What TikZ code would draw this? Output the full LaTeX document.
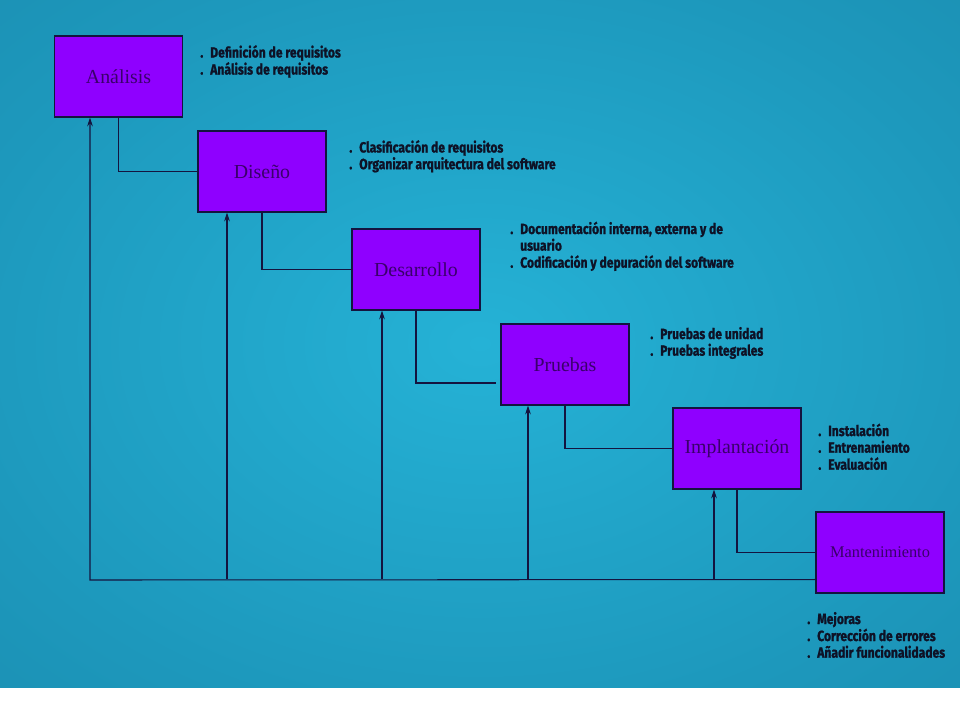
\documentclass[tikz,border=0pt]{standalone}
\usepackage{fontspec}
\usepackage{tikz}
\usetikzlibrary{arrows.meta,calc}
\setmainfont{Liberation Serif}
\newfontfamily\notefont[FakeStretch=0.82, BoldFeatures={FakeBold=1.2}]{Fira Sans}
\definecolor{boxfill}{HTML}{8F00FF}
\definecolor{boxtext}{HTML}{3A006B}
\definecolor{edge}{HTML}{14143F}
\definecolor{bgin}{HTML}{25B2D6}
\definecolor{bgmid}{HTML}{1D98BC}
\definecolor{bgout}{HTML}{16789A}
\definecolor{notecol}{HTML}{0E1226}
\pgfdeclareradialshading{bgshade}{\pgfpoint{0bp}{0bp}}{color(0bp)=(bgin); color(28bp)=(bgmid); color(71bp)=(bgout)}
\newcommand{\notes}[1]{{\notefont\bfseries\fontsize{8.4}{8.9}\selectfont\begin{tabular}[t]{@{}l@{\hspace{4pt}}l@{}}#1\end{tabular}}}

\begin{document}
\begin{tikzpicture}[x=0.02cm, y=-0.02cm,
    phase/.style={draw=edge, fill=boxfill, line width=0.6pt, minimum width=2.56cm, minimum height=1.62cm,
        inner sep=0pt, text=boxtext, font=\fontsize{11.3}{13}\selectfont},
    note/.style={anchor=base west, inner sep=0pt, text=notecol},
    flow/.style={draw=edge, line width=0.6pt},
    up/.style={flow, -{Stealth[length=5pt, width=3.2pt]}}]
    %Background
    \useasboundingbox (0,0) rectangle (960,720);
    \fill[white] (0,0) rectangle (960,720);
    \shade[shading=bgshade] (0,0) rectangle (960,687);

    %Phases
    \node[phase] (ana) at (118.5,76.5) {Análisis};
    \node[phase] (dis) at (262,171.5) {Diseño};
    \node[phase] (des) at (416,269.5) {Desarrollo};
    \node[phase] (pru) at (565,364.5) {Pruebas};
    \node[phase] (imp) at (737,448.5) {Implantación};
    \node[phase, font=\fontsize{9.3}{11}\selectfont] (man) at (880,552.5) {Mantenimiento};

    %Notes
    \node[note] (anaNotes) at (200,57.5) {\notes{.&Definición de requisitos\\ .&Análisis de requisitos}};
    \node[note] (disNotes) at (349,152.5) {\notes{.&Clasificación de requisitos\\ .&Organizar arquitectura del software}};
    \node[note] (desNotes) at (510,234) {\notes{.&Documentación interna, externa y de\\ &usuario\\ .&Codificación y depuración del software}};
    \node[note] (pruNotes) at (650,339) {\notes{.&Pruebas de unidad\\ .&Pruebas integrales}};
    \node[note] (impNotes) at (818,436) {\notes{.&Instalación\\ .&Entrenamiento\\ .&Evaluación}};
    \node[note] (manNotes) at (807,624) {\notes{.&Mejoras\\ .&Corrección de errores\\ .&Añadir funcionalidades}};

    %Steps down
    \foreach \a/\b in {ana/dis, dis/des, pru/imp, imp/man}
        \draw[flow] (\a.south) |- (\b.west);
    \coordinate (pruIn) at (496,383);
    \draw[flow] (des.south) |- (pruIn);

    %Feedback
    \coordinate (backR) at ($(man.south west)+(0,-14)$);
    \coordinate (backL) at (90,580);
    \draw[up] (backR) -- (backL) -- (backL |- ana.south);
    \foreach \n/\x in {dis/227, des/382, pru/528, imp/714}{
        \coordinate (up\n) at (\x,579);
        \draw[up] (up\n) -- (up\n |- \n.south);
    };
\end{tikzpicture}
\end{document}
